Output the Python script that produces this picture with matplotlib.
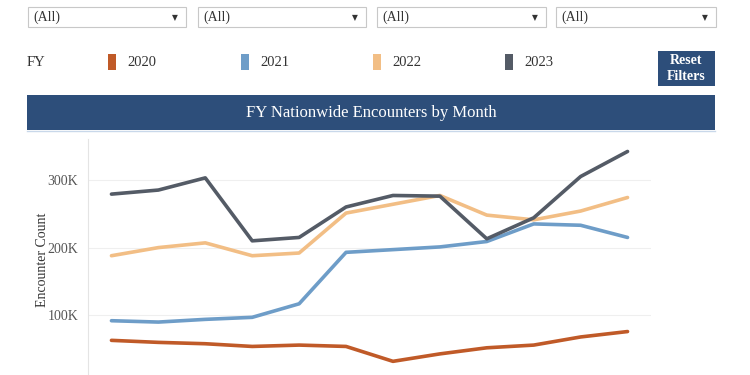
import numpy as np
import matplotlib
matplotlib.use("Agg")
import matplotlib.pyplot as plt
from matplotlib.patches import Rectangle
from matplotlib.ticker import FuncFormatter

plt.rcParams['font.family'] = ['Liberation Serif', 'DejaVu Serif']

# data (thousands of encounters, fiscal-year months Oct..Sep)
months = ['Oct', 'Nov', 'Dec', 'Jan', 'Feb', 'Mar', 'Apr', 'May', 'Jun', 'Jul', 'Aug', 'Sep']
fy2020 = [63, 60, 58, 54, 56, 54, 32, 43, 52, 56, 68, 76]
fy2021 = [92, 90, 94, 97, 117, 193, 197, 201, 209, 235, 233, 215]
fy2022 = [188, 200, 207, 188, 192, 251, 264, 277, 248, 241, 254, 274]
fy2023 = [279, 285, 303, 210, 215, 260, 277, 276, 213, 244, 305, 342]
years = ['2020', '2021', '2022', '2023']
series = [fy2020, fy2021, fy2022, fy2023]
colors = ['#C05A28', '#6E9DC8', '#F2BE85', '#545B66']
filters = ['(All)', '(All)', '(All)', '(All)']
title = 'FY Nationwide Encounters by Month'

W, H = 750, 375
fig = plt.figure(figsize=(7.5, 3.75), dpi=100)


def fx(x):
    return x / W


def fy(y):
    return 1 - y / H


def rect(x0, y0, x1, y1, **kw):
    fig.patches.append(Rectangle((fx(x0), fy(y1)), fx(x1 - x0), (y1 - y0) / H,
                                 transform=fig.transFigure, **kw))


# filter dropdowns
boxes = [(28, 186), (198, 366), (377, 546), (556, 716)]
for (x0, x1), lab in zip(boxes, filters):
    rect(x0, 7, x1, 27, facecolor='white', edgecolor='#c8c8c8', linewidth=0.8)
    fig.text(fx(x0 + 5), fy(17), lab, fontsize=10, color='#333333', va='center')
    fig.text(fx(x1 - 11), fy(17.5), '▼', fontsize=5.5, color='#333333',
             va='center', ha='center', family=['DejaVu Sans'])

# legend row
fig.text(fx(27), fy(62), 'FY', fontsize=10.5, color='#333333', va='center')
sw_x = [108, 241, 373, 505]
for x, yr, c in zip(sw_x, years, colors):
    rect(x, 54, x + 8, 70, facecolor=c, edgecolor='none')
    fig.text(fx(x + 19), fy(62), yr, fontsize=10.5, color='#333333', va='center')

# reset button
rect(658, 51, 715, 86, facecolor='#2D4E7A', edgecolor='none')
fig.text(fx(686.5), fy(68.5), 'Reset\nFilters', fontsize=10, color='white',
         weight='bold', ha='center', va='center', linespacing=1.2)

# title bar
rect(27, 95, 715, 130, facecolor='#2D4E7A', edgecolor='none')
fig.text(fx(371), fy(113), title, fontsize=12, color='white', ha='center', va='center')
fig.lines.append(plt.Line2D([fx(27), fx(715)], [fy(130.5), fy(130.5)],
                            transform=fig.transFigure, color='#C9D8EA', lw=1))

# chart
ymax = 360
px_per_k = 0.677
ax_bottom = 383
ax_top = ax_bottom - ymax * px_per_k
ax = fig.add_axes([fx(88), fy(ax_bottom), fx(651 - 88), (ax_bottom - ax_top) / H])
x = np.arange(len(months))
for vals, c in zip(series, colors):
    ax.plot(x, vals, color=c, lw=2.6, solid_capstyle='round', solid_joinstyle='round')

ax.set_xlim(-0.5, 11.5)
ax.set_ylim(0, ymax)
ax.set_yticks([0, 100, 200, 300])
ax.yaxis.set_major_formatter(FuncFormatter(lambda v, p: f'{int(v)}K'))
ax.set_xticks([])
ax.tick_params(axis='y', length=0, pad=7, labelsize=10, labelcolor='#555555')
ax.grid(axis='y', color='#EFEFEF', lw=0.8)
ax.set_axisbelow(True)
for s in ['top', 'right', 'bottom']:
    ax.spines[s].set_visible(False)
ax.spines['left'].set_color('#E4E4E4')
ax.spines['left'].set_linewidth(0.8)
fig.text(fx(43), fy(260), 'Encounter Count', fontsize=10, color='#333333',
         rotation=90, ha='center', va='center')

fig.savefig('out.png', dpi=100)
